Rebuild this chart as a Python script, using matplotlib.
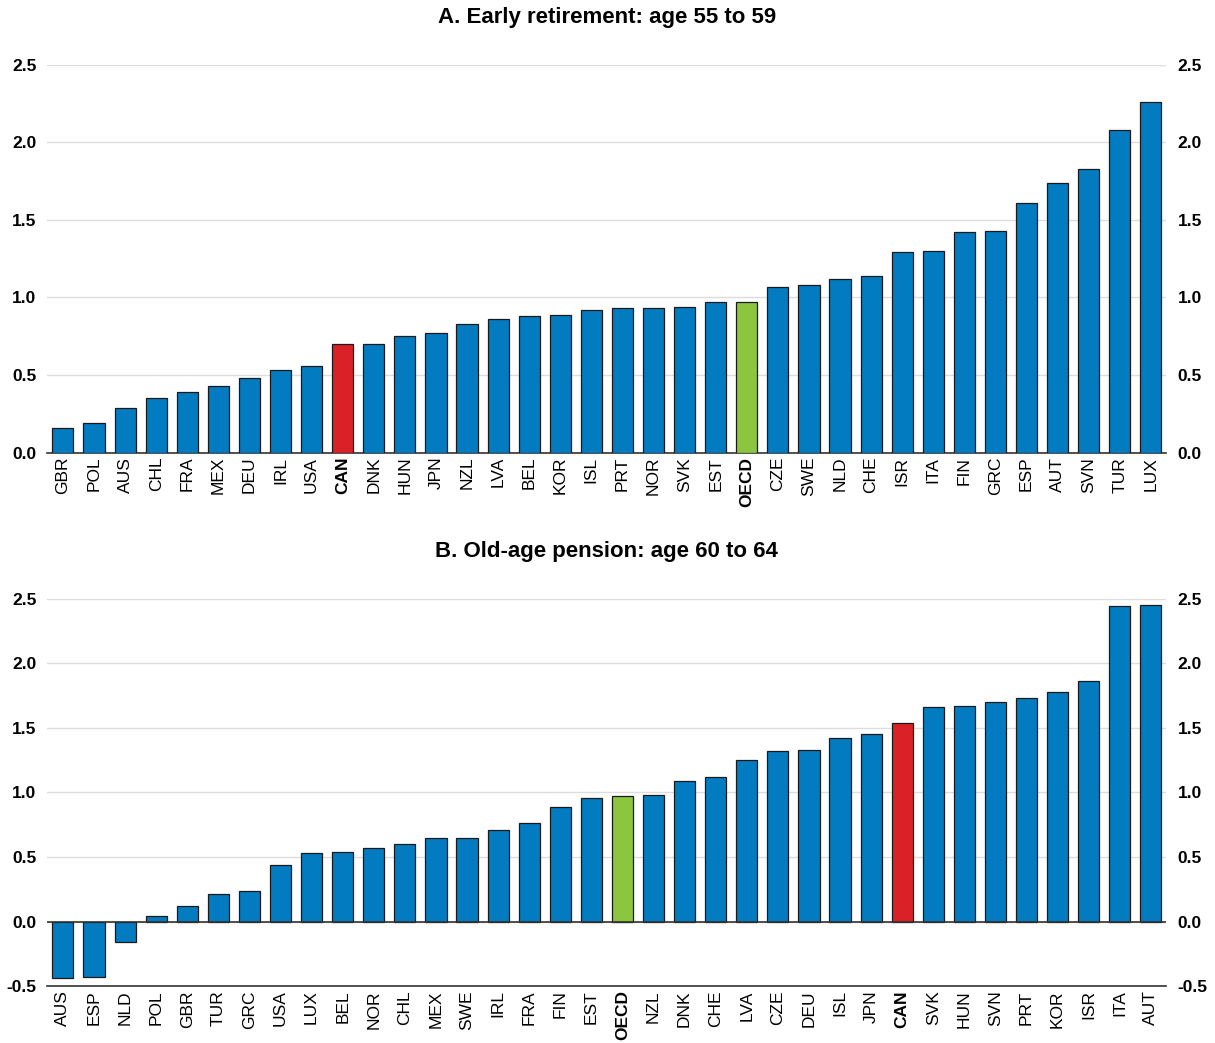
import matplotlib.pyplot as plt
import numpy as np

plt.rcParams['font.family'] = ['Liberation Sans', 'DejaVu Sans']

# Panel A: early retirement, age 55 to 59
a_countries = ['GBR', 'POL', 'AUS', 'CHL', 'FRA', 'MEX', 'DEU', 'IRL', 'USA', 'CAN',
               'DNK', 'HUN', 'JPN', 'NZL', 'LVA', 'BEL', 'KOR', 'ISL', 'PRT', 'NOR',
               'SVK', 'EST', 'OECD', 'CZE', 'SWE', 'NLD', 'CHE', 'ISR', 'ITA', 'FIN',
               'GRC', 'ESP', 'AUT', 'SVN', 'TUR', 'LUX']
a_values = [0.16, 0.19, 0.29, 0.35, 0.39, 0.43, 0.48, 0.53, 0.56, 0.70,
            0.70, 0.75, 0.77, 0.83, 0.86, 0.88, 0.89, 0.92, 0.93, 0.93,
            0.94, 0.97, 0.97, 1.07, 1.08, 1.12, 1.14, 1.29, 1.30, 1.42,
            1.43, 1.61, 1.74, 1.83, 2.08, 2.26]

# Panel B: old-age pension, age 60 to 64
b_countries = ['AUS', 'ESP', 'NLD', 'POL', 'GBR', 'TUR', 'GRC', 'USA', 'LUX', 'BEL',
               'NOR', 'CHL', 'MEX', 'SWE', 'IRL', 'FRA', 'FIN', 'EST', 'OECD', 'NZL',
               'DNK', 'CHE', 'LVA', 'CZE', 'DEU', 'ISL', 'JPN', 'CAN', 'SVK', 'HUN',
               'SVN', 'PRT', 'KOR', 'ISR', 'ITA', 'AUT']
b_values = [-0.44, -0.43, -0.16, 0.04, 0.12, 0.21, 0.24, 0.44, 0.53, 0.54,
            0.57, 0.60, 0.65, 0.65, 0.71, 0.76, 0.89, 0.96, 0.97, 0.98,
            1.09, 1.12, 1.25, 1.32, 1.33, 1.42, 1.45, 1.54, 1.66, 1.67,
            1.70, 1.73, 1.78, 1.86, 2.44, 2.45]

blue = '#037BC1'
red = '#DA2128'
green = '#8CC63F'


def draw_panel(ax, countries, values, title, ymin):
    x = np.arange(len(countries))
    colors = []
    for c in countries:
        if c == 'CAN':
            colors.append(red)
        elif c == 'OECD':
            colors.append(green)
        else:
            colors.append(blue)
    ax.bar(x, values, width=0.68, color=colors, edgecolor='#1a1a1a', linewidth=0.9, zorder=3)
    ax.set_xlim(-0.5, len(countries) - 0.5)
    ax.set_ylim(ymin, 2.5)
    ticks = np.arange(ymin, 2.51, 0.5)
    ax.set_yticks(ticks)
    ax.set_yticklabels(['%.1f' % t for t in ticks])
    ax.yaxis.grid(True, color='#DDDDDD', linewidth=1.0, zorder=0)
    ax.set_axisbelow(True)
    for s in ['top', 'left', 'right']:
        ax.spines[s].set_visible(False)
    ax.spines['bottom'].set_color('#333333')
    ax.spines['bottom'].set_linewidth(1.2)
    if ymin < 0:
        ax.axhline(0, color='#333333', linewidth=1.2, zorder=4)
    ax.tick_params(axis='y', length=0, labelsize=12.5, labelleft=True, labelright=True, pad=8)
    ax.tick_params(axis='x', length=0, pad=3)
    ax.set_xticks(x)
    ax.set_xticklabels(countries, rotation=90, fontsize=12.5)
    for lab in ax.get_xticklabels():
        if lab.get_text() in ('CAN', 'OECD'):
            lab.set_fontweight('bold')
    for lab in ax.get_yticklabels():
        lab.set_fontweight('bold')
    ax.set_title(title, fontsize=16, fontweight='bold', pad=30)


fig = plt.figure(figsize=(12.15, 10.43), dpi=100)
ax1 = fig.add_axes([0.039, 0.566, 0.921, 0.372])
ax2 = fig.add_axes([0.039, 0.0545, 0.921, 0.3715])

draw_panel(ax1, a_countries, a_values, 'A. Early retirement: age 55 to 59', 0.0)
draw_panel(ax2, b_countries, b_values, 'B. Old-age pension: age 60 to 64', -0.5)

fig.savefig('out.png', dpi=100)
